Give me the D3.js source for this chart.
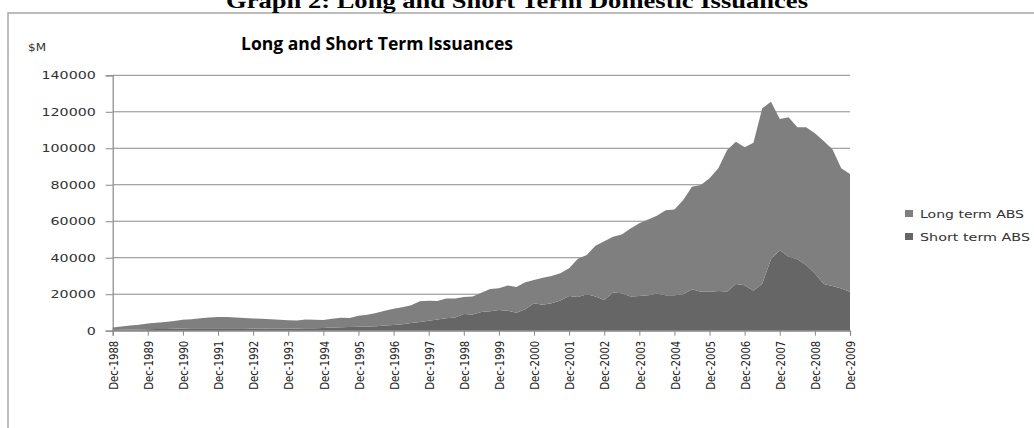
<!DOCTYPE html>
<html>
<head>
<meta charset="utf-8">
<script src="https://cdn.jsdelivr.net/npm/d3@7"></script>
<style>
  html, body { margin: 0; padding: 0; background: #fff; }
  svg { display: block; }
</style>
</head>
<body>
<svg id="chart" width="1034" height="428"></svg>
<script>
// Quarterly issuance, Dec-1988 .. Dec-2009 ($M)
const shortTermABS = [
  400, 500, 600, 700, 800, 900, 1000, 1100, 1200, 1300, 1300, 1400, 1400,
  1400, 1300, 1300, 1200, 1200, 1100, 1100, 1100, 1200, 1300, 1400, 1500,
  1700, 1900, 2000, 2200, 2300, 2500, 2800, 3100, 3500, 4200, 4800, 5500,
  6100, 6800, 7200, 9200, 8900, 10200, 10700, 11300, 11000, 9900, 11700, 15000,
  14200, 15000, 16500, 19000, 18500, 20000, 18700, 16800, 21000, 20500, 18700, 19000,
  19500, 20300, 19400, 19400, 20000, 22700, 21400, 21300, 21800, 21500, 25600, 24900,
  21900, 25800, 39100, 44200, 40600, 39100, 36000, 31500, 25600, 24500, 23200, 21400
];
const longTermABS = [
  1400, 1800, 2200, 2600, 3100, 3400, 3800, 4200, 4800, 5000, 5500, 5900, 6100,
  6100, 6000, 5700, 5500, 5300, 5200, 4900, 4600, 4400, 4900, 4600, 4400,
  4900, 5200, 5000, 6000, 6500, 7200, 8100, 8900, 9300, 9800, 11400, 10900,
  10200, 10900, 10400, 9300, 9900, 10600, 12100, 12000, 13800, 14100, 14800, 12800,
  14800, 15000, 15000, 15200, 21000, 21500, 27800, 32200, 30500, 32200, 37300, 39900,
  41400, 42700, 46600, 47100, 51600, 56200, 58500, 62200, 67200, 77500, 78000, 75600,
  81100, 96200, 86400, 71800, 76400, 72400, 75500, 76700, 78400, 74900, 65800, 64500
];
const seriesNames = ["Long term ABS", "Short term ABS"];
const yTicks = [0, 20000, 40000, 60000, 80000, 100000, 120000, 140000];
const xTickLabels = [
  "Dec-1988", "Dec-1989", "Dec-1990", "Dec-1991", "Dec-1992", "Dec-1993",
  "Dec-1994", "Dec-1995", "Dec-1996", "Dec-1997", "Dec-1998", "Dec-1999",
  "Dec-2000", "Dec-2001", "Dec-2002", "Dec-2003", "Dec-2004", "Dec-2005",
  "Dec-2006", "Dec-2007", "Dec-2008", "Dec-2009"
];

const colors = { "Long term ABS": "#7f7f7f", "Short term ABS": "#666666" };

const svg = d3.select("#chart");

// Frame of the embedded chart
svg.append("rect")
  .attr("x", 8).attr("y", 13)
  .attr("width", 1100).attr("height", 500)
  .attr("fill", "none").attr("stroke", "#a6a6a6").attr("stroke-width", 1.5);

// Document caption above the frame
svg.append("text")
  .attr("x", 517).attr("y", 8)
  .attr("text-anchor", "middle")
  .attr("font-family", "'Liberation Serif', 'Times New Roman', serif")
  .attr("font-weight", "bold").attr("font-size", 20)
  .attr("textLength", 582).attr("lengthAdjust", "spacingAndGlyphs")
  .text("Graph 2: Long and Short Term Domestic Issuances");

// Chart title
svg.append("text")
  .attr("x", 241).attr("y", 50)
  .attr("font-family", "'Open Sans', 'Noto Sans', sans-serif")
  .attr("font-weight", "bold").attr("font-size", 17)
  .attr("textLength", 272).attr("lengthAdjust", "spacingAndGlyphs")
  .attr("fill", "#000")
  .text("Long and Short Term Issuances");

// Unit label
svg.append("text")
  .attr("x", 28).attr("y", 51)
  .attr("font-family", "'DejaVu Sans', sans-serif")
  .attr("font-size", 10)
  .attr("textLength", 18).attr("lengthAdjust", "spacingAndGlyphs")
  .attr("fill", "#333")
  .text("$M");

const nQ = longTermABS.length;
const x = d3.scaleLinear().domain([0, nQ - 1]).range([112.7, 850]);
const y = d3.scaleLinear().domain([0, 140000]).range([330.7, 75.3]);

// Gridlines
svg.append("g")
  .selectAll("line")
  .data(yTicks.filter(d => d > 0))
  .join("line")
  .attr("x1", x(0)).attr("x2", x(nQ - 1))
  .attr("y1", d => y(d)).attr("y2", d => y(d))
  .attr("stroke", "#8a8a8a").attr("stroke-width", 1);

// Stacked areas: short term at the base, long term on top
const rows = d3.range(nQ).map(i => ({
  i,
  "Short term ABS": shortTermABS[i],
  "Long term ABS": longTermABS[i]
}));
const stack = d3.stack().keys(["Short term ABS", "Long term ABS"]);
const layers = stack(rows);

const area = d3.area()
  .x(d => x(d.data.i))
  .y0(d => y(d[0]))
  .y1(d => y(d[1]));

svg.append("g")
  .selectAll("path")
  .data(layers)
  .join("path")
  .attr("d", area)
  .attr("fill", d => colors[d.key]);

// Y axis
const yAxis = d3.axisLeft(y)
  .tickValues(yTicks)
  .tickSize(7)
  .tickPadding(0)
  .tickFormat(d3.format("d"));

const yG = svg.append("g")
  .attr("transform", `translate(${x(0)},0)`)
  .call(yAxis);
yG.select(".domain").attr("stroke", "#888").attr("stroke-width", 1.2);
yG.selectAll(".tick line").attr("stroke", "#888");
const yScaleX = 1.42;
yG.selectAll(".tick text")
  .attr("font-family", "'DejaVu Sans', sans-serif")
  .attr("font-size", 10)
  .attr("fill", "#333")
  .attr("x", -17 / yScaleX)
  .attr("dy", "0.35em")
  .attr("transform", `scale(${yScaleX},1)`);

// X axis
const xTickIdx = xTickLabels.map((_, k) => k * 4);
const xAxis = d3.axisBottom(x)
  .tickValues(xTickIdx)
  .tickSize(5)
  .tickFormat((d, k) => xTickLabels[k]);

const xG = svg.append("g")
  .attr("transform", `translate(0,${y(0)})`)
  .call(xAxis);
xG.select(".domain").attr("stroke", "#888").attr("stroke-width", 1.2);
xG.selectAll(".tick line").attr("stroke", "#888");
xG.selectAll(".tick text")
  .attr("font-family", "'Liberation Sans Narrow', 'DejaVu Sans Condensed', 'Liberation Sans', sans-serif")
  .attr("font-size", 13)
  .attr("fill", "#222")
  .attr("text-anchor", "end")
  .attr("textLength", 49)
  .attr("lengthAdjust", "spacingAndGlyphs")
  .attr("transform", "rotate(-90)")
  .attr("x", -10)
  .attr("y", 0)
  .attr("dy", "0.36em");

// Legend
const legend = svg.append("g");
const legendRows = [
  { name: seriesNames[0], y: 214, len: 104 },
  { name: seriesNames[1], y: 237, len: 110 }
];
legendRows.forEach(r => {
  legend.append("rect")
    .attr("x", 905).attr("y", r.y - 4)
    .attr("width", 8).attr("height", 7)
    .attr("fill", colors[r.name]);
  legend.append("text")
    .attr("x", 920).attr("y", r.y)
    .attr("dy", "0.35em")
    .attr("font-family", "'DejaVu Sans', sans-serif")
    .attr("font-size", 10)
    .attr("fill", "#333")
    .attr("textLength", r.len).attr("lengthAdjust", "spacingAndGlyphs")
    .text(r.name);
});
</script>
</body>
</html>
